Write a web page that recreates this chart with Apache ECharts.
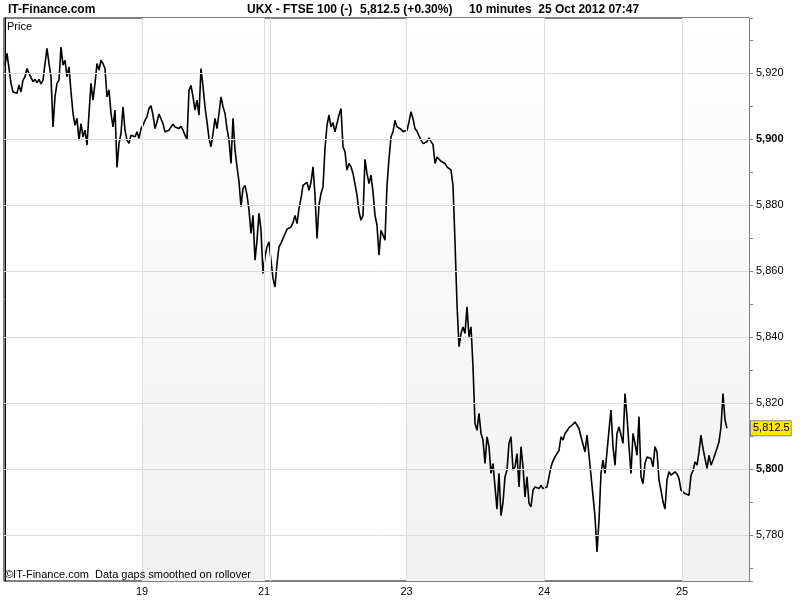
<!DOCTYPE html>
<html>
<head>
<meta charset="utf-8">
<script src="https://cdn.jsdelivr.net/npm/echarts@6/dist/echarts.min.js"></script>
<style>html,body{margin:0;padding:0;background:#fff}#c{width:800px;height:600px}</style>
</head>
<body>
<div id="c"></div>
<script>
// FTSE 100 (UKX), 10-minute closes, sampled evenly along the chart
const prices = [
 5922.5,5926.1,5925.6,5917,5914.4,5915,5914,5916.5,5914.4,5918,5919,5921.5,5920,5919.5,5917.5,5918.2,5917.2,5918.2,5916.8,5918,
 5923,5927.6,5923,5919,5903.8,5912.9,5917,5918,5928,5922.5,5924,5919,5922,5914.4,5907.9,5904.3,5906.4,5899.8,5904.8,5900.8,
 5902.8,5898.3,5907.9,5917,5911.9,5917,5923,5921,5924,5923,5921.5,5912.9,5915,5907.9,5903.8,5908.9,5891.5,5898.8,5901.8,5909.9,
 5902.8,5899.8,5898.8,5901.3,5901.8,5900.8,5902.3,5900.3,5903.3,5904.3,5905.8,5906.9,5909.4,
 5910.2,5907.4,5903.3,5905.3,5907.7,5907.1,5904.8,5902.3,5901.8,5902.8,5903.8,5904.6,5903.8,5904.3,5903.3,5904,5902.8,5901.3,5900,5914.9,
 5916.4,5912.9,5908.9,5911.9,5907.4,5921.5,5916,5909.9,5905.3,5900.3,5897.8,5901.8,5906.4,5903.3,5907.9,5912.9,5909.9,5907.9,5903.3,5899.8,
 5892.7,5906.4,5896.8,5891.7,5887.2,5879.6,5885.1,5886.1,5883.1,5878.6,5871.5,5877,5863.4,5869.5,5877.6,5872.5,5859.4,5864.4,5867.5,5869,
 5863.4,5857.9,5855.3,5862.4,5867.5,
 5868.5,5870,5870.5,5872.8,5872.5,5873.5,5874.8,5877,5874.5,5879.1,5882.1,5886.1,5886.6,5887,5884.6,5887,5891.7,5883.1,5870,5880.1,
 5883.6,5885.6,5897.3,5904.3,5907.4,5903.8,5905.1,5902.3,5901.8,5907.4,5909.4,5897.8,5896.2,5890.7,5892.7,5891.7,5889.7,5889.2,5883.1,5878.1,
 5875.5,5877,5894,5889.7,5886.6,5889.2,5884.1,5877,5874,5864.9,5872.5,5871,5869.5,5886.1,5894.2,5900.8,5902.3,5905.8,5903.8,5903.3,
 5903.1,5902.3,5901.8,5902.8,5905.3,5908.4,5906.3,5903.3,5902.5,5901.1,5899.8,5898.8,5898.8,5899.3,5900.5,5899.3,5898.5,5892.7,5894.7,5894.2,
 5893.4,5893.2,5892.7,5891.7,5892.2,5890.7,5886,5869,5850,
 5837.2,5841.2,5843.2,5841.2,5849.3,5840.2,5843.2,5831.1,5813.9,5811.9,5817,5810.9,5808.9,5801.8,5809.9,5806.9,5798.8,5801.8,5794.7,5788,
 5798.8,5786,5790,5797.8,5799.8,5807.9,5809.9,5799.8,5800.8,5804.8,5794.7,5806.9,5800.8,5791.7,5797.8,5789.7,5788.7,5793.7,5794.7,5794.7,
 5794.2,5795.2,5794.2,5793.7,5794.7,5797.8,5800.8,5802.6,5803.8,5804.8,5805.8,5809.9,5808.9,5810.9,5811.7,5812.7,5812.9,5813.7,5814.4,5814.4,
 5812.4,5809.9,5809.7,5805.3,5810.4,5804.3,5804.8,5792,5785.7,5775,5784.6,
 5798.8,5802.8,5798.8,5798.8,5811.9,5818,5806.9,5801.3,5810.9,5812.9,5812.4,5807.9,5823,5816,5806.9,5798.8,5810.9,5807.9,5804.3,5816,
 5797.8,5795.7,5801.8,5803.8,5804.3,5803.3,5800.8,5806.9,5805.3,5796.8,5793.7,5790.2,5788,5796.8,5799.3,5798.3,5798.5,5799.3,5798.6,5797.3,
 5793.7,5794.2,5792.7,5793.2,5792.2,5798.3,5799.6,5802.3,5801.3,5805.3,5810.4,5806.4,5803.3,5800.3,5804.3,5801.3,5802.8,5802.8,5806.4,5808.4,
 5812.9,5823,5815,5812.5
];
const lastPrice = 5812.5;
const dayLabels = ['19', '21', '23', '24', '25'];
const dayLabelIdx = [68.5, 129.5, 200.75, 269.5, 338.5];
const dayLineIdx = [68.5, 129.5, 132.5, 200.75, 269.5, 338.5];
const shadedDays = [[68.5, 129.5], [200.75, 269.5], [338.5, 372]];
const priceLabels = [5780, 5800, 5820, 5840, 5860, 5880, 5900, 5920];
const headerParts = ['UKX - FTSE 100 (-)', '5,812.5 (+0.30%)', '10 minutes  25 Oct 2012 07:47'];

const FONT = '"Liberation Sans", Arial, sans-serif';
const fmt = v => v.toLocaleString('en-US');
const Y_MIN = 5766.2, Y_MAX = 5936.8;
const headerLeft = [242, 355, 464];

const chart = echarts.init(document.getElementById('c'), null, {renderer: 'canvas'});
chart.setOption({
  animation: false,
  backgroundColor: '#ffffff',
  textStyle: {fontFamily: FONT},
  title: [
    {text: 'IT-Finance.com', left: 3, top: -1, textStyle: {fontSize: 12, fontWeight: 'bold', color: '#000', fontFamily: FONT}}
  ].concat(headerParts.map((t, i) => ({
    text: t, left: headerLeft[i], top: -1,
    textStyle: {fontSize: 12, fontWeight: 'bold', color: '#000', fontFamily: FONT}
  }))).concat([
    {text: 'Price', left: 2, top: 16, textStyle: {fontSize: 11, fontWeight: 'normal', color: '#000', fontFamily: FONT}},
    {text: '\u00a9IT-Finance.com  Data gaps smoothed on rollover', left: 0, top: 564,
     textStyle: {fontSize: 11, fontWeight: 'normal', color: '#000', fontFamily: FONT}}
  ]),
  grid: {left: 4, right: 51, top: 18, bottom: 19, show: true, borderColor: '#000', borderWidth: 1, backgroundColor: '#fff'},
  xAxis: {
    type: 'value', min: -0.5, max: 372,
    axisLine: {show: false},
    axisTick: {show: false},
    splitLine: {show: false},
    axisLabel: {
      customValues: dayLabelIdx,
      formatter: v => { const k = dayLabelIdx.indexOf(v); return k >= 0 ? dayLabels[k] : ''; },
      fontSize: 11, color: '#000', margin: 5, fontFamily: FONT
    }
  },
  yAxis: [
    {
      type: 'value', position: 'right', min: Y_MIN, max: Y_MAX,
      axisLine: {show: true, lineStyle: {color: '#000'}},
      axisTick: {show: false},
      splitLine: {show: false},
      axisLabel: {
        customValues: priceLabels,
        formatter: v => (v % 100 === 0 ? '{b|' + fmt(v) + '}' : fmt(v)),
        fontSize: 11, color: '#000', margin: 7, fontFamily: FONT,
        rich: {b: {fontWeight: 'bold', fontSize: 11, fontFamily: FONT, color: '#000'}}
      }
    },
    {
      type: 'value', position: 'right', min: Y_MIN, max: Y_MAX, splitNumber: 17,
      axisLine: {show: false},
      axisTick: {show: true, inside: false, length: 4, lineStyle: {color: '#808080'}},
      splitLine: {show: false},
      axisLabel: {show: false}
    }
  ],
  series: [
    {
      type: 'line', data: [], silent: true, z: 1,
      markArea: {
        silent: true,
        itemStyle: {color: new echarts.graphic.LinearGradient(0, 0, 0, 1, [{offset: 0, color: '#ffffff'}, {offset: 1, color: '#f1f1f1'}])},
        data: shadedDays.map(d => [{xAxis: d[0]}, {xAxis: d[1]}])
      },
      markLine: {
        silent: true, symbol: ['none', 'none'], label: {show: false},
        lineStyle: {color: '#dcdcdc', width: 1, type: 'solid'},
        data: priceLabels.map(v => ({yAxis: v})).concat(dayLineIdx.map(v => ({xAxis: v})))
      }
    },
    {
      type: 'line', z: 3,
      data: prices.map((v, i) => [i, v]),
      showSymbol: false, symbol: 'none',
      lineStyle: {color: '#000', width: 1.6},
      sampling: 'none',
      markLine: {
        silent: true, symbol: ['none', 'none'],
        lineStyle: {color: 'rgba(0,0,0,0)', width: 0},
        label: {
          show: true, position: 'end', distance: 2,
          formatter: () => fmt(lastPrice),
          backgroundColor: '#ffe800', borderColor: '#8a8a8a', borderWidth: 1,
          padding: [2, 1, 1, 2], color: '#000', fontSize: 11, fontFamily: FONT
        },
        data: [{yAxis: lastPrice}]
      }
    }
  ]
});
</script>
</body>
</html>
